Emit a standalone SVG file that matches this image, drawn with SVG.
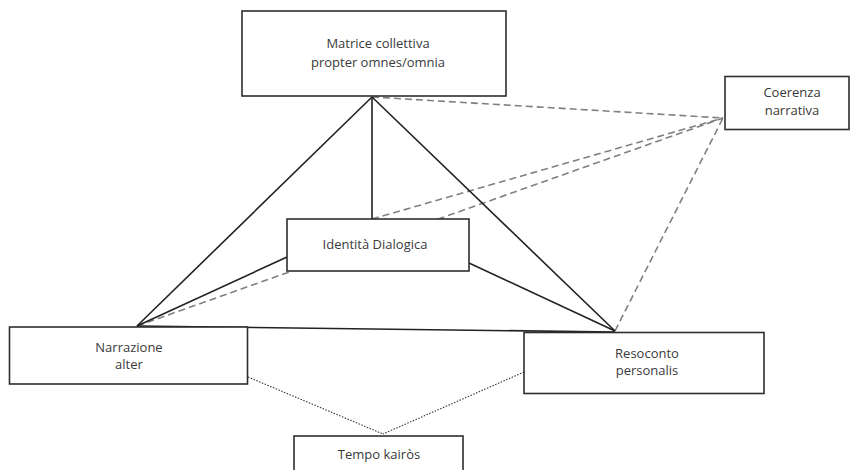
<svg xmlns="http://www.w3.org/2000/svg" width="850" height="470" viewBox="0 0 850 470">
<style>
.box{fill:#fff;stroke:#2e2e2e;stroke-width:1.6}
.t{font-family:"Open Sans","Liberation Sans",sans-serif;font-size:13px;fill:#3a3a3a;text-anchor:middle}
.solid{stroke:#222;stroke-width:1.6;fill:none}
.dash{stroke:#808080;stroke-width:1.6;stroke-dasharray:7 4;fill:none}
.dot{stroke:#333;stroke-width:1.1;stroke-dasharray:1.5 1.5;fill:none}
</style>
<rect width="850" height="470" fill="#fff"/>
<g id="connectors">
<line class="dash" x1="372" y1="97" x2="723" y2="118"/>
<line class="dash" x1="372" y1="219" x2="723" y2="118"/>
<line class="dash" x1="137" y1="326" x2="723" y2="118"/>
<line class="dash" x1="615" y1="331" x2="723" y2="118"/>
<line class="solid" x1="372" y1="97" x2="137" y2="326"/>
<line class="solid" x1="372" y1="97" x2="615" y2="331"/>
<line class="solid" x1="372" y1="97" x2="372" y2="219"/>
<line class="solid" x1="287" y1="257" x2="137" y2="326"/>
<line class="solid" x1="469" y1="263" x2="615" y2="331"/>
<line class="solid" x1="137" y1="326" x2="615" y2="332"/>
<line class="dot" x1="248" y1="377" x2="383" y2="434"/>
<line class="dot" x1="524" y1="372" x2="383" y2="434"/>
</g>
<g id="matrice">
<rect class="box" x="242" y="11" width="264" height="85"/>
<text class="t" x="378" y="48">Matrice collettiva</text>
<text class="t" x="378" y="66.5">propter omnes/omnia</text>
</g>
<g id="coerenza">
<rect class="box" x="725" y="76.5" width="124" height="53"/>
<text class="t" x="792" y="97">Coerenza</text>
<text class="t" x="792" y="115">narrativa</text>
</g>
<g id="identita">
<rect class="box" x="287" y="219" width="182" height="52"/>
<text class="t" x="375" y="249">Identità Dialogica</text>
</g>
<g id="narrazione">
<rect class="box" x="9.5" y="327" width="238" height="57"/>
<text class="t" x="129" y="352">Narrazione</text>
<text class="t" x="129" y="369">alter</text>
</g>
<g id="resoconto">
<rect class="box" x="524" y="332.5" width="240" height="61"/>
<text class="t" x="647" y="357.5">Resoconto</text>
<text class="t" x="647" y="375">personalis</text>
</g>
<g id="tempo">
<rect class="box" x="294" y="436" width="169" height="45"/>
<text class="t" x="379" y="458.5">Tempo kairòs</text>
</g>
</svg>
